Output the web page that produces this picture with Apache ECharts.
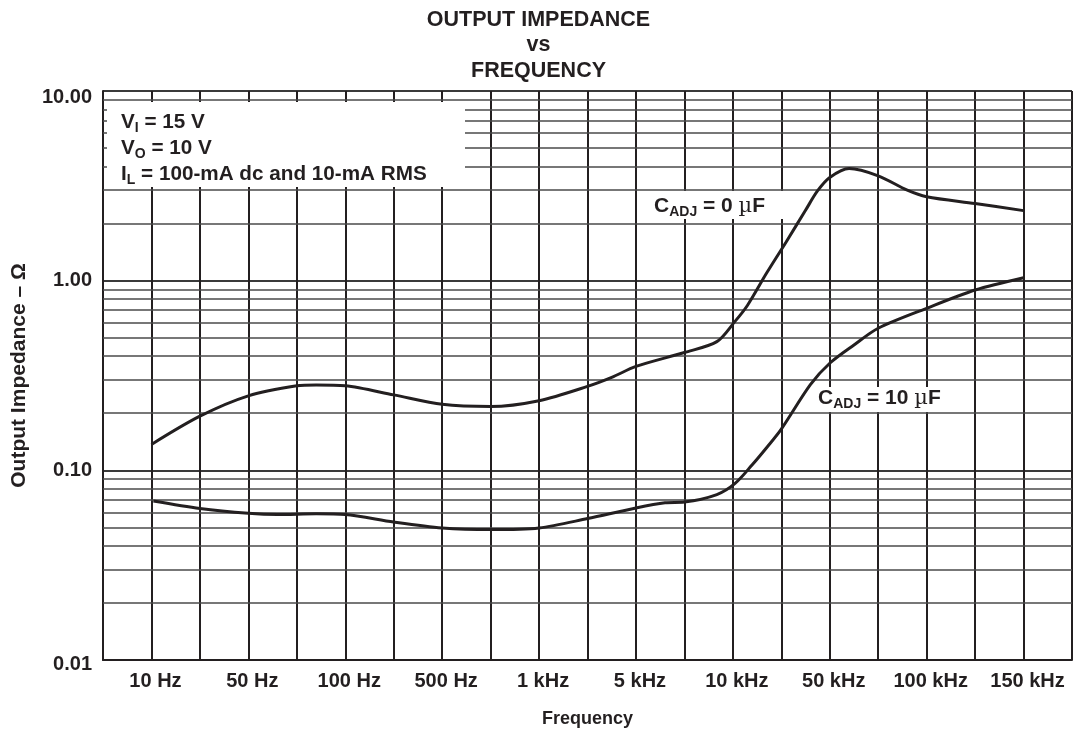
<!DOCTYPE html>
<html>
<head>
<meta charset="utf-8">
<script src="https://cdn.jsdelivr.net/npm/echarts@6/dist/echarts.min.js"></script>
<style>
html,body{margin:0;padding:0;background:#fff;}
#chart{width:1077px;height:733px;}
</style>
</head>
<body>
<div id="chart"></div>
<script>
// ---- data ----
const freqLabels = ['10 Hz','50 Hz','100 Hz','500 Hz','1 kHz','5 kHz','10 kHz','50 kHz','100 kHz','150 kHz'];
const yTickValues = [0.01, 0.1, 1, 10];
const minorMultipliers = [2,3,4,5,6,7,8,9];
// x positions along the (equally spaced) frequency axis, in grid divisions
const cadj0Pos = [1, 2, 3, 4, 4.4, 5, 6, 7, 8, 9, 10, 10.5, 11, 12, 12.67, 13.04, 13.3, 13.7, 14.1, 14.5, 14.75, 15, 15.4, 16, 16.6, 17, 18, 19];
const cadj0Val = [0.137, 0.193, 0.247, 0.279, 0.282, 0.279, 0.25, 0.223, 0.217, 0.233, 0.277, 0.309, 0.353, 0.418, 0.477, 0.608, 0.74, 1.10, 1.60, 2.35, 2.98, 3.5, 3.9, 3.57, 3.0, 2.77, 2.55, 2.34];
const cadj10Pos = [1.04, 2, 3, 3.6, 4.4, 5, 6, 7, 8, 9, 10, 11, 11.6, 12, 12.67, 13.04, 13.4, 13.7, 14, 14.6, 15, 15.5, 16, 17, 18, 19];
const cadj10Val = [0.069, 0.063, 0.0594, 0.0585, 0.059, 0.0585, 0.0534, 0.0497, 0.0487, 0.0497, 0.0557, 0.0633, 0.0674, 0.068, 0.0745, 0.085, 0.107, 0.132, 0.165, 0.283, 0.367, 0.458, 0.561, 0.715, 0.893, 1.037];

// ---- build ----
const minorGrid = [];
yTickValues.slice(0, -1).forEach(d => minorMultipliers.forEach(m => minorGrid.push(+(d * m).toPrecision(3))));
const zip = (a, b) => a.map((x, i) => [x, b[i]]);

const FONT = '"Liberation Sans", Arial, Helvetica, sans-serif';
const INK = '#231f20';

const labelRich = (size, subSize) => ({
  b: {fontFamily: FONT, fontWeight: 'bold', fontSize: size, lineHeight: 26, fill: INK},
  m: {fontFamily: '"DejaVu Serif", serif', fontSize: size, lineHeight: 26, fill: INK},
  s: {fontFamily: FONT, fontWeight: 'bold', fontSize: subSize, lineHeight: subSize, verticalAlign: 'bottom', fill: INK}
});

const chart = echarts.init(document.getElementById('chart'), null, {renderer: 'canvas'});
const option = {
  backgroundColor: '#fff',
  animation: false,
  title: {
    text: 'OUTPUT IMPEDANCE\nvs\nFREQUENCY',
    left: 'center', top: 2,
    textStyle: {fontFamily: FONT, fontWeight: 'bold', fontSize: 21.5, lineHeight: 25.7, color: INK}
  },
  grid: {left: 103, right: 5, top: 91, bottom: 72, containLabel: false},
  xAxis: {
    type: 'value', min: 0, max: 20, interval: 1,
    name: 'Frequency', nameLocation: 'middle', nameGap: 50,
    nameTextStyle: {fontFamily: FONT, fontWeight: 'bold', fontSize: 18, color: INK},
    axisLine: {show: true, lineStyle: {color: INK, width: 2}},
    axisTick: {show: false},
    axisLabel: {
      margin: 11, fontFamily: FONT, fontWeight: 'bold', fontSize: 20, color: INK,
      padding: [0, 0, 0, 8],
      formatter: v => (v % 2 === 1 ? freqLabels[(v - 1) / 2] : '')
    },
    splitLine: {show: true, lineStyle: {color: INK, width: 2}}
  },
  yAxis: {
    type: 'log', logBase: 10, min: 0.01, max: 10,
    name: 'Output Impedance – Ω', nameLocation: 'middle', nameGap: 73, nameRotate: 90,
    nameTextStyle: {fontFamily: FONT, fontWeight: 'bold', fontSize: 21, color: INK},
    axisLine: {show: true, lineStyle: {color: INK, width: 2}},
    axisTick: {show: false},
    axisLabel: {
      margin: 11, fontFamily: FONT, fontWeight: 'bold', fontSize: 20, color: INK,
      formatter: v => {
        const t = Number(v).toFixed(2);
        if (v >= 9.99) return '{top|' + t + '}';
        if (v <= 0.0101) return '{bot|' + t + '}';
        return t;
      },
      rich: {
        top: {fontFamily: FONT, fontWeight: 'bold', fontSize: 20, color: INK, padding: [12, 0, 0, 0]},
        bot: {fontFamily: FONT, fontWeight: 'bold', fontSize: 20, color: INK, padding: [8, 0, 0, 0]}
      }
    },
    splitLine: {show: true, lineStyle: {color: '#3a3a3a', width: 2}}
  },
  series: [
    {
      type: 'line', data: [], z: 1, silent: true,
      markLine: {
        silent: true, symbol: ['none', 'none'], animation: false,
        label: {show: false},
        lineStyle: {color: '#4a4a4a', width: 1.6, type: 'solid'},
        emphasis: {disabled: true},
        data: minorGrid.map(v => ({yAxis: v}))
      }
    },
    {
      name: 'CADJ = 0 µF', type: 'line', z: 5, smooth: 0.3,
      showSymbol: false, symbol: 'none',
      lineStyle: {color: INK, width: 3},
      data: zip(cadj0Pos, cadj0Val)
    },
    {
      name: 'CADJ = 10 µF', type: 'line', z: 5, smooth: 0.3,
      showSymbol: false, symbol: 'none',
      lineStyle: {color: INK, width: 3},
      data: zip(cadj10Pos, cadj10Val)
    }
  ],
  graphic: [
    {type: 'rect', z: 20, shape: {x: 107, y: 102, width: 358, height: 85}, style: {fill: '#fff'}},
    {type: 'text', z: 21, left: 121, top: 112, style: {
      text: '{b|V}{s|I}{b| = 15 V}\n{b|V}{s|O}{b| = 10 V}\n{b|I}{s|L}{b| = 100-mA dc and 10-mA RMS}',
      rich: labelRich(20.7, 14)
    }},
    {type: 'rect', z: 20, shape: {x: 651, y: 191, width: 132, height: 28}, style: {fill: '#fff'}},
    {type: 'text', z: 21, left: 654, top: 196, style: {
      text: '{b|C}{s|ADJ}{b| = 0 }{m|µ}{b|F}',
      rich: labelRich(21, 14)
    }},
    {type: 'rect', z: 20, shape: {x: 816, y: 387, width: 130, height: 25}, style: {fill: '#fff'}},
    {type: 'text', z: 21, left: 818, top: 388, style: {
      text: '{b|C}{s|ADJ}{b| = 10 }{m|µ}{b|F}',
      rich: labelRich(21, 14)
    }}
  ]
};
chart.setOption(option);
</script>
</body>
</html>
